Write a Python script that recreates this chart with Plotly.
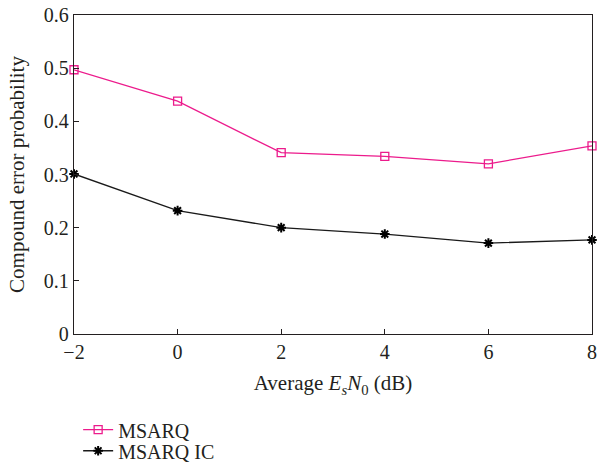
import plotly.graph_objects as go

x_vals = [-2, 0, 2, 4, 6, 8]
msarq = [0.497, 0.438, 0.341, 0.334, 0.320, 0.354]
msarq_ic = [0.301, 0.232, 0.200, 0.188, 0.171, 0.177]

font_family = "Liberation Serif"
pink = "#ec1b8c"
ink = "#231f20"

fig = go.Figure()
fig.add_trace(go.Scatter(
    x=x_vals, y=msarq, name="MSARQ", mode="lines+markers",
    line=dict(color=pink, width=1.3),
    marker=dict(symbol="square-open", size=8, color=pink, line=dict(width=1.3, color=pink)),
    cliponaxis=False, legend="legend",
))
fig.add_trace(go.Scatter(
    x=x_vals, y=msarq_ic, name="MSARQ IC", mode="lines+markers",
    line=dict(color="#1a1a1a", width=1.3),
    marker=dict(symbol="asterisk", size=8, color="#000", line=dict(width=2, color="#000")),
    cliponaxis=False, legend="legend2",
))

leg_common = dict(xanchor="left", yanchor="middle", bgcolor="rgba(0,0,0,0)",
                  font=dict(size=20, family=font_family, color=ink))

fig.update_layout(
    width=599, height=463,
    margin=dict(l=74, r=7, t=15, b=129, autoexpand=False),
    paper_bgcolor="white", plot_bgcolor="white",
    font=dict(family=font_family, size=20, color=ink),
    showlegend=True,
    legend=dict(x=0.008, y=-0.300, **leg_common),
    legend2=dict(x=0.008, y=-0.366, **leg_common),
    xaxis=dict(
        range=[-2, 8], tickvals=[-2, 0, 2, 4, 6, 8],
        ticks="inside", ticklen=5, tickcolor=ink,
        showline=True, linecolor=ink, linewidth=1.3, mirror=True,
        showgrid=False, zeroline=False, ticklabeloverflow="allow",
        tickfont=dict(size=20),
        title=dict(text="Average <i>E<sub>s</sub>N</i><sub>0</sub> (dB)", standoff=13,
                   font=dict(size=21)),
    ),
    yaxis=dict(
        range=[0, 0.6], tickvals=[0, 0.1, 0.2, 0.3, 0.4, 0.5, 0.6],
        ticktext=["0", "0.1", "0.2", "0.3", "0.4", "0.5", "0.6"],
        ticks="inside", ticklen=5, tickcolor=ink,
        showline=True, linecolor=ink, linewidth=1.3, mirror=True,
        showgrid=False, zeroline=False,
        tickfont=dict(size=20),
        title=dict(text="Compound error probability", standoff=13,
                   font=dict(size=21)),
    ),
)

fig.write_html("out.html")
